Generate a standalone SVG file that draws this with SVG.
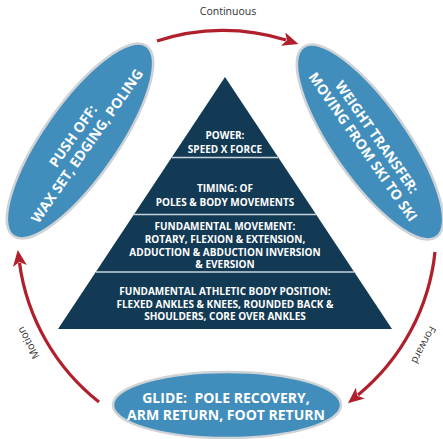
<svg xmlns="http://www.w3.org/2000/svg" width="443" height="439" viewBox="0 0 443 439">
<defs>
<style>
.pyr{fill:#133a54}
.sep{stroke:#c9d3dc;stroke-width:1.5}
.pt{font-family:"Open Sans","Liberation Sans",sans-serif;font-weight:700;font-size:10px;fill:#ffffff;text-anchor:middle}
.ell{fill:#418ebd;stroke:#cfd3d6;stroke-width:2.5}
.et{font-family:"Open Sans","Liberation Sans",sans-serif;font-weight:700;font-size:14px;fill:#ffffff;text-anchor:middle}
.arc{fill:none;stroke:#b01f2b;stroke-width:3.2}
.lbl{font-family:"Open Sans","Liberation Sans",sans-serif;font-size:10.5px;fill:#333333;text-anchor:middle}
</style>
<marker id="ah" markerUnits="userSpaceOnUse" markerWidth="16" markerHeight="14" viewBox="0 0 16 14" refX="3" refY="7" orient="auto">
<path d="M0,0 L16,7 L0,14 L4,7 z" fill="#b01f2b"/>
</marker>
</defs>

<g id="pyramid">
<polygon class="pyr" points="225,77 58,329 392,329"/>
<line class="sep" x1="172" y1="157.5" x2="278" y2="157.5"/>
<line class="sep" x1="134" y1="214.5" x2="316" y2="214.5"/>
<line class="sep" x1="96" y1="272" x2="354" y2="272"/>
</g>

<g id="power">
<text class="pt" x="225" y="139">POWER:</text>
<text class="pt" x="225" y="153">SPEED X FORCE</text>
</g>
<g id="timing">
<text class="pt" x="225" y="192">TIMING: OF</text>
<text class="pt" x="225" y="205.5">POLES &amp; BODY MOVEMENTS</text>
</g>
<g id="fundamental-movement">
<text class="pt" x="225" y="230">FUNDAMENTAL MOVEMENT:</text>
<text class="pt" x="225" y="243">ROTARY, FLEXION &amp; EXTENSION,</text>
<text class="pt" x="225" y="256">ADDUCTION &amp; ABDUCTION INVERSION</text>
<text class="pt" x="225" y="268">&amp; EVERSION</text>
</g>
<g id="body-position">
<text class="pt" x="225" y="295">FUNDAMENTAL ATHLETIC BODY POSITION:</text>
<text class="pt" x="225" y="307.5">FLEXED ANKLES &amp; KNEES, ROUNDED BACK &amp;</text>
<text class="pt" x="225" y="320">SHOULDERS, CORE OVER ANKLES</text>
</g>

<g id="push-off" transform="translate(80,141) rotate(-55)">
<ellipse class="ell" cx="0" cy="0" rx="116" ry="37"/>
<text class="et" x="0" y="-3.5">PUSH OFF:</text>
<text class="et" x="0" y="13.5">WAX SET, EDGING, POLING</text>
</g>

<g id="weight-transfer" transform="translate(370,142) rotate(55)">
<ellipse class="ell" cx="0" cy="0" rx="116" ry="37"/>
<text class="et" x="0" y="-3.5">WEIGHT TRANSFER:</text>
<text class="et" x="0" y="13.5">MOVING FROM SKI TO SKI</text>
</g>

<g id="glide">
<ellipse class="ell" cx="227" cy="405" rx="114" ry="33"/>
<text class="et" x="226" y="403">GLIDE:&#160; POLE RECOVERY,</text>
<text class="et" x="226" y="420">ARM RETURN, FOOT RETURN</text>
</g>

<g id="connectors">
<path class="arc" d="M157,41 A210,210 0 0 1 286,40" marker-end="url(#ah)"/>
<path class="arc" d="M435,252 A214,214 0 0 1 358,395" marker-end="url(#ah)"/>
<path class="arc" d="M99,402 A214,214 0 0 1 19.5,263" marker-end="url(#ah)"/>
<text class="lbl" x="228" y="15">Continuous</text>
<text class="lbl" transform="translate(424,345) rotate(118)" x="0" y="4">Forward</text>
<text class="lbl" transform="translate(28,343) rotate(-118)" x="0" y="4">Motion</text>
</g>
</svg>
